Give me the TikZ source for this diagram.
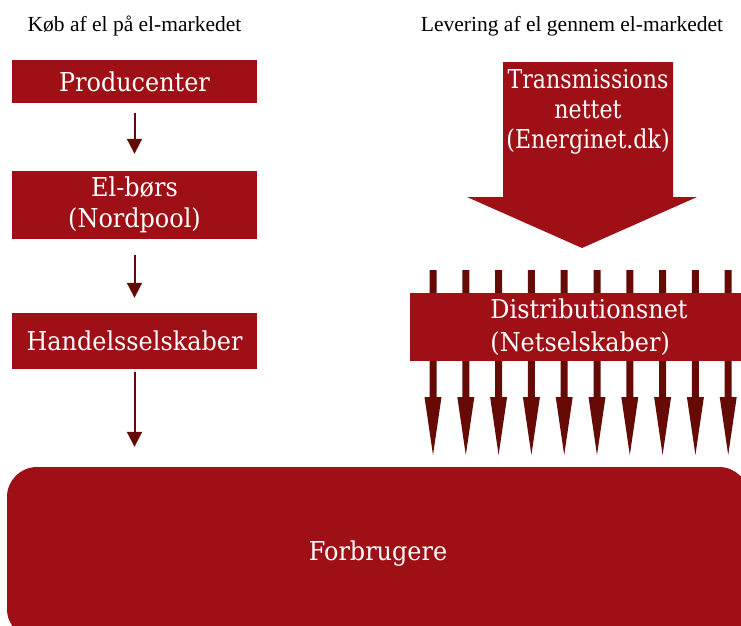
\documentclass[tikz,border=0pt]{standalone}
\usepackage{fontspec}
\setmainfont{Liberation Serif}
\newfontfamily\boxfont[FakeStretch=0.92]{DejaVu Serif}
\newfontfamily\narrowboxfont[FakeStretch=0.85]{DejaVu Serif}
\usetikzlibrary{arrows.meta, positioning}

\definecolor{boxred}{RGB}{158,16,22}
\definecolor{arrowred}{RGB}{102,10,6}

\begin{document}
\begin{tikzpicture}[
    x=1pt, y=-1pt,
    >={Triangle[length=15pt,width=15pt]},
    box/.style={fill=boxred, text=white, align=center, inner sep=0pt,
        font=\boxfont\fontsize{26}{31}\selectfont},
    column box/.style={box, minimum width=245pt},
    heading/.style={font=\fontsize{21.5}{24}\selectfont},
    flow/.style={->, draw=arrowred, line width=2pt},
    feeder/.style={fill=arrowred}
]
\useasboundingbox (0,0) rectangle (741,625);

% Headings
\node[heading] (kob) at (134.5,26) {Køb af el på el-markedet};
\node[heading] (lev) at (572,26) {Levering af el gennem el-markedet};

% Left column
\node[column box, minimum height=43pt] (prod) at (134.5,81.5) {Producenter};
\node[column box, minimum height=68pt] (bors) at (134.5,205) {El-børs\\(Nordpool)};
\node[column box, minimum height=56pt] (hs) at (134.5,341) {Handelsselskaber};

% Consumers
\node[box, rounded corners=30pt, minimum width=742pt, minimum height=172pt] (forb) at (378,553) {Forbrugere};

% Flow arrows
\draw[flow, shorten <=10pt, shorten >=17pt] (prod) -- (bors);
\draw[flow, shorten <=16pt, shorten >=15pt] (bors) -- (hs);
\draw[flow, shorten <=3pt, shorten >=20pt] (hs.south) -- (hs.south |- forb.north);

% Transmission block arrow
\fill[boxred] (503,62) -- (673,62) -- (673,197) -- (697,197) -- (582,248)
    -- (467,197) -- (503,197) -- cycle;
\node[box, fill=none, font=\narrowboxfont\fontsize{26}{30}\selectfont] (trans) at (588,112) {Transmissions\\nettet\\(Energinet.dk)};

% Feeder arrows behind the distribution net
\foreach \i in {0,...,9}{
    \pgfmathsetmacro{\xa}{433+32.8*\i}
    \fill[feeder] (\xa-3.5,270) -- (\xa-3.5,397) -- (\xa-8.5,397) -- (\xa,455)
        -- (\xa+8.5,397) -- (\xa+3.5,397) -- (\xa+3.5,270) -- cycle;
}

% Distribution net
\node[box, minimum width=358pt, minimum height=68pt, align=left, font=\boxfont\fontsize{26}{33}\selectfont] (dist) at (589,327) {Distributionsnet\\(Netselskaber)};

\end{tikzpicture}
\end{document}
